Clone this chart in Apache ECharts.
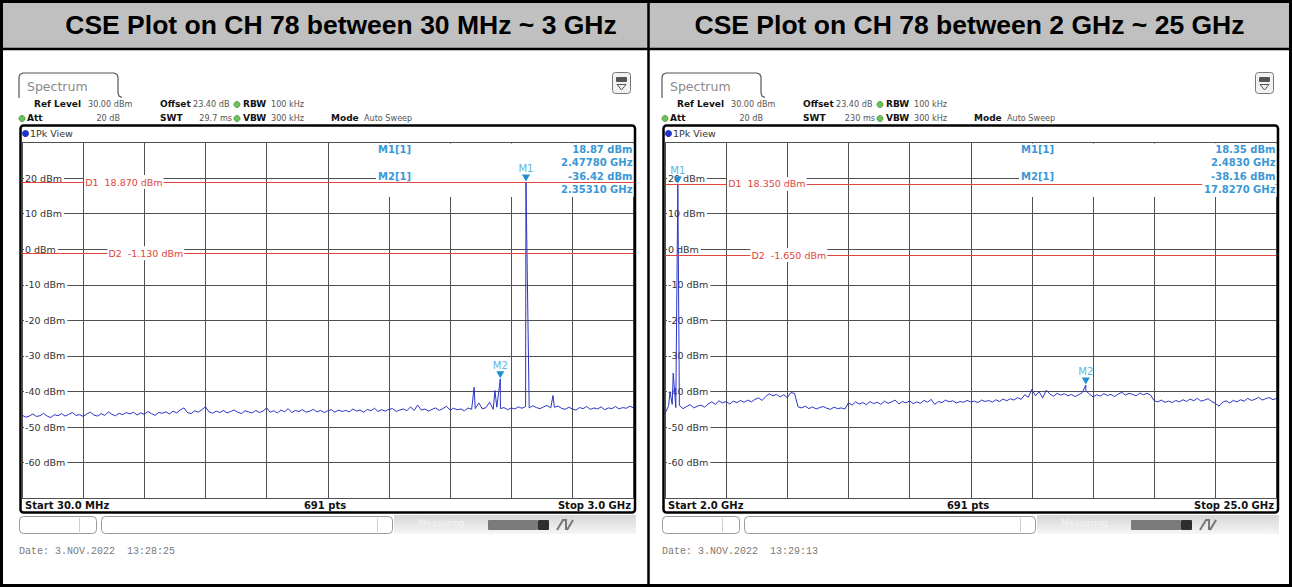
<!DOCTYPE html>
<html>
<head>
<meta charset="utf-8">
<title>CSE Plot on CH 78</title>
<script src="https://cdn.jsdelivr.net/npm/echarts@6/dist/echarts.min.js"></script>
<style>
html,body{margin:0;padding:0;background:#ffffff;overflow:hidden;}
#chart{width:1292px;height:587px;}
</style>
</head>
<body>
<div id="chart"></div>
<script>
// ================= DATA =================
const panelTitles = ['CSE Plot on CH 78 between 30 MHz ~ 3 GHz', 'CSE Plot on CH 78 between 2 GHz ~ 25 GHz'];
const yMin = -70, yMax = 30, yStep = 10, yUnit = 'dBm';
const divisions = 10;

// Panel 1 : 30 MHz .. 3 GHz (MHz)
const p1Start = 30, p1Stop = 3000;
const p1Noise = [
 -46.6,-47.2,-46.9,-46.3,-47.0,-46.8,-46.1,-46.9,-47.3,-46.5,
 -46.8,-46.2,-46.9,-46.4,-45.9,-46.7,-46.5,-47.0,-46.3,-45.8,
 -46.6,-46.9,-46.2,-46.7,-45.7,-46.4,-46.8,-46.1,-46.5,-45.9,
 -46.3,-45.8,-46.6,-46.0,-46.4,-45.6,-46.2,-46.7,-45.9,-46.1,
 -45.7,-46.3,-45.5,-46.0,-45.2,-44.6,-45.9,-46.2,-45.4,-45.8,
 -45.1,-44.3,-45.7,-46.1,-45.5,-45.9,-45.3,-46.0,-45.6,-45.2,
 -45.8,-46.2,-45.4,-45.7,-46.0,-45.3,-45.9,-45.5,-44.6,-45.8,
 -45.4,-46.0,-45.2,-45.7,-44.8,-45.9,-45.3,-45.6,-45.1,-45.8,
 -45.5,-45.0,-45.7,-45.3,-45.9,-45.4,-45.1,-45.8,-45.2,-45.6,
 -45.3,-45.7,-44.9,-45.5,-45.2,-45.8,-45.0,-45.4,-44.7,-45.6,
 -45.1,-45.5,-45.0,-44.8,-45.6,-45.2,-44.9,-45.4,-44.3,-45.3,
 -43.8,-45.2,-44.9,-45.5,-45.0,-44.6,-45.3,-44.8,-44.1,-45.2,
 -44.7,-45.1,-44.9,-45.4,-44.6,-45.0,-44.8,-43.2,-44.9,-44.5,
 -43.0,-45.0,-44.4,-44.8,-44.5,-45.1,-44.6,-44.9,-44.3,-44.7,
 -44.2,-44.6,-44.0,-44.5,-44.8,-44.3,-43.9,-44.6,-44.4,-44.1,
 -44.7,-45.0,-44.4,-44.9,-45.2,-44.5,-44.8,-44.2,-45.0,-44.6,
 -44.9,-44.3,-45.1,-44.6,-44.8,-44.2,-44.9,-44.5,-44.7,-44.1,-44.6
];
const p1Spikes = [[2226, -38.8], [2327, -39.7], [2353.1, -36.42], [2477.8, 18.87], [2609, -41.1]];
const p1Markers = [['M1', 2477.8, 18.87], ['M2', 2353.1, -36.42]];
const p1Lines = [['D1', 18.87, 'D1  18.870 dBm'], ['D2', -1.13, 'D2  -1.130 dBm']];
const p1MarkerTable = [['M1[1]', '18.87 dBm', '2.47780 GHz'], ['M2[1]', '-36.42 dBm', '2.35310 GHz']];
const p1Swt = '29.7 ms';
const p1Footer = ['Start 30.0 MHz', '691 pts', 'Stop 3.0 GHz'];
const p1Date = 'Date: 3.NOV.2022  13:28:25';

// Panel 2 : 2 GHz .. 25 GHz (GHz)
const p2Start = 2, p2Stop = 25;
const p2Noise = [
 -46.2,-44.0,-43.6,-44.5,-43.9,-44.8,-44.2,-43.7,-44.6,-44.1,
 -43.8,-44.4,-43.5,-42.9,-43.6,-42.6,-43.2,-42.8,-43.5,-42.7,
 -43.1,-42.5,-43.0,-42.4,-42.9,-42.2,-41.8,-42.5,-41.4,-40.6,
 -41.2,-40.8,-41.5,-40.9,-41.7,-40.3,-40.5,-44.3,-44.6,-44.1,
 -44.8,-44.3,-44.9,-44.5,-44.2,-44.7,-45.0,-44.4,-44.8,-44.6,
 -44.9,-43.2,-43.8,-42.9,-43.5,-43.1,-43.7,-42.8,-43.4,-43.0,
 -43.6,-42.7,-43.3,-42.9,-42.4,-43.5,-42.8,-43.2,-42.6,-43.4,
 -42.9,-43.3,-42.5,-43.0,-42.2,-43.6,-42.8,-43.1,-42.4,-42.9,
 -42.6,-43.2,-42.8,-43.0,-42.5,-42.9,-42.7,-43.1,-42.4,-42.8,
 -42.5,-43.0,-42.3,-42.8,-42.1,-42.6,-42.0,-42.4,-41.7,-42.2,
 -40.9,-41.6,-39.4,-41.2,-40.0,-41.8,-39.6,-40.7,-41.3,-40.5,
 -41.0,-40.6,-41.2,-40.8,-41.4,-40.9,-40.3,-39.8,-40.7,-41.5,
 -40.9,-41.3,-40.6,-41.1,-40.8,-41.4,-40.7,-40.2,-41.0,-40.5,
 -40.8,-41.2,-40.4,-40.9,-40.5,-41.0,-42.6,-42.9,-42.4,-43.0,
 -42.7,-43.1,-42.5,-42.9,-42.3,-42.8,-42.1,-42.6,-41.9,-42.7,
 -42.4,-42.0,-42.8,-43.3,-44.1,-43.0,-42.6,-43.2,-42.5,-42.9,
 -42.3,-42.7,-41.9,-42.5,-42.2,-41.6,-42.4,-42.0,-41.7,-42.3,-41.9
];
const p2Spikes = [[2.19, -40.0], [2.31, -34.8], [2.483, 18.35], [17.827, -38.16]];
const p2Markers = [['M1', 2.483, 18.35], ['M2', 17.827, -38.16]];
const p2Lines = [['D1', 18.35, 'D1  18.350 dBm'], ['D2', -1.65, 'D2  -1.650 dBm']];
const p2MarkerTable = [['M1[1]', '18.35 dBm', '2.4830 GHz'], ['M2[1]', '-38.16 dBm', '17.8270 GHz']];
const p2Swt = '230 ms';
const p2Footer = ['Start 2.0 GHz', '691 pts', 'Stop 25.0 GHz'];
const p2Date = 'Date: 3.NOV.2022  13:29:13';

// ================= LAYOUT / STYLE =================
const PANEL_DX = [0, 643];
const GRID = { left: 22, top: 142.5, width: 611.5, height: 355.8 };
const C = {
  grid: '#505050', trace: '#2c34c4', dline: '#e0463e', marker: '#1f8fd1',
  markerLbl: '#5db5e3', info: '#3b98d4', text: '#333333', gray: '#8a8a8a'
};
const F = 'DejaVu Sans';

function buildTrace(start, stop, noise, spikes) {
  const n = noise.length;
  const pts = noise.map((v, i) => [start + (stop - start) * i / (n - 1), v]);
  spikes.forEach(s => pts.push([s[0], s[1]]));
  pts.sort((a, b) => a[0] - b[0]);
  return pts;
}

const panels = [
  { start: p1Start, stop: p1Stop, noise: p1Noise, spikes: p1Spikes, markers: p1Markers, lines: p1Lines,
    table: p1MarkerTable, swt: p1Swt, footer: p1Footer, date: p1Date, title: panelTitles[0] },
  { start: p2Start, stop: p2Stop, noise: p2Noise, spikes: p2Spikes, markers: p2Markers, lines: p2Lines,
    table: p2MarkerTable, swt: p2Swt, footer: p2Footer, date: p2Date, title: panelTitles[1] }
];

const chart = echarts.init(document.getElementById('chart'), null, { renderer: 'svg', width: 1292, height: 587 });

const grids = [], xAxes = [], yAxes = [], series = [];
panels.forEach((p, k) => {
  grids.push({ left: GRID.left + PANEL_DX[k], top: GRID.top, width: GRID.width, height: GRID.height,
    outerBoundsMode: 'none', containLabel: false, show: false });
  xAxes.push({ gridIndex: k, type: 'value', min: 0, max: divisions, interval: 1,
    axisLine: { show: false }, axisTick: { show: false }, axisLabel: { show: false },
    splitLine: { show: true, lineStyle: { color: C.grid, width: 1 } } });
  xAxes.push({ gridIndex: k, type: 'value', min: p.start, max: p.stop, show: false,
    splitLine: { show: false } });
  yAxes.push({ gridIndex: k, type: 'value', min: yMin, max: yMax, interval: yStep,
    axisLine: { show: false }, axisTick: { show: false },
    splitLine: { show: true, lineStyle: { color: C.grid, width: 1 } },
    axisLabel: { inside: true, margin: 2, showMinLabel: false, showMaxLabel: false,
      formatter: v => v + ' ' + yUnit, color: C.text, fontSize: 9.5, fontFamily: F,
      backgroundColor: '#ffffff', padding: [0, 2, 0, 1] } });
  series.push({
    type: 'line', xAxisIndex: 2 * k + 1, yAxisIndex: k,
    data: buildTrace(p.start, p.stop, p.noise, p.spikes),
    symbol: 'none', showSymbol: false, smooth: false,
    lineStyle: { color: C.trace, width: 1 }, z: 3, silent: true, animation: false,
    markLine: { silent: true, animation: false, symbol: ['none', 'none'], label: { show: false },
      lineStyle: { color: C.dline, width: 1, type: 'solid' },
      emphasis: { disabled: true },
      data: p.lines.map(d => ({ yAxis: d[1] })) },
    markPoint: { silent: true, animation: false, symbol: 'path://M0 0 L10 0 L5 8 Z',
      symbolSize: [8, 7], symbolOffset: [0, -4], itemStyle: { color: C.marker },
      label: { show: true, position: 'top', distance: 1, color: C.markerLbl, fontSize: 10,
        fontFamily: F, formatter: '{b}' },
      data: p.markers.map(m => ({ name: m[0], coord: [m[1], m[2]] })) }
  });
});

chart.setOption({
  animation: false,
  backgroundColor: '#ffffff',
  grid: grids, xAxis: xAxes, yAxis: yAxes, series: series
});

// ================= DECORATION (graphic) =================
function T(x, y, text, font, fill, align, extra) {
  return { type: 'text', x: x, y: y, z: 10, silent: true,
    style: Object.assign({ text: text, font: font, fill: fill, align: align || 'left', verticalAlign: 'middle' }, extra || {}) };
}
function R(x, y, w, h, style, r, z) {
  return { type: 'rect', z: z == null ? 10 : z, silent: true, shape: { x: x, y: y, width: w, height: h, r: r || 0 }, style: style };
}
function L(x1, y1, x2, y2, stroke, lw, z) {
  return { type: 'line', z: z == null ? 10 : z, silent: true, shape: { x1: x1, y1: y1, x2: x2, y2: y2 }, style: { stroke: stroke, lineWidth: lw } };
}
function PL(points, stroke, lw) {
  return { type: 'polyline', z: 10, silent: true, shape: { points: points }, style: { fill: null, stroke: stroke, lineWidth: lw } };
}
function Dot(cx, cy, r, fill, stroke) {
  return { type: 'circle', z: 10, silent: true, shape: { cx: cx, cy: cy, r: r }, style: { fill: fill, stroke: stroke || null, lineWidth: 0.8 } };
}

const els = [];
// table header & borders
els.push(R(0, 0, 1292, 49, { fill: '#c0c0c0' }, 0, 0));
els.push(T(341, 25, panelTitles[0], 'bold 26.5px "Liberation Sans"', '#000', 'center'));
els.push(T(969.5, 25, panelTitles[1], 'bold 26.5px "Liberation Sans"', '#000', 'center'));
els.push(L(0, 49, 1292, 49, '#000', 2.5, 20));
els.push(L(648.5, 0, 648.5, 587, '#000', 2.5, 20));
els.push(R(1.5, 1.5, 1289, 584, { fill: 'none', stroke: '#000', lineWidth: 3 }, 0, 20));

const bold9 = 'bold 9px "' + F + '"';
const norm9 = '9px "DejaVu Sans Condensed", "DejaVu Sans"';
panels.forEach((p, k) => {
  const dx = PANEL_DX[k];
  // tab
  els.push(PL([[19 + dx, 98], [19 + dx, 77], [20 + dx, 74.5], [23 + dx, 73], [114 + dx, 73], [117 + dx, 74.5], [118 + dx, 77], [118 + dx, 93], [119 + dx, 96], [122 + dx, 97.5]], '#555', 1.2));
  els.push(T(27 + dx, 86, 'Spectrum', '12.5px "' + F + '"', C.gray));
  // icon top right
  els.push(R(612.5 + dx, 72.5, 18, 21, { fill: '#f2f2f2', stroke: '#777', lineWidth: 1 }, 3));
  els.push(R(616 + dx, 77, 11, 5, { fill: '#555' }, 1));
  els.push({ type: 'polygon', z: 11, silent: true, shape: { points: [[617 + dx, 84.5], [626 + dx, 84.5], [621.5 + dx, 90]] }, style: { fill: null, stroke: '#555', lineWidth: 1 } });
  // settings rows
  els.push(T(34 + dx, 104, 'Ref Level', bold9, '#111'));
  els.push(T(88 + dx, 104, '30.00 dBm', norm9, '#555'));
  els.push(T(160 + dx, 104, 'Offset', bold9, '#111'));
  els.push(T(193 + dx, 104, '23.40 dB', norm9, '#555'));
  els.push(Dot(237 + dx, 104.5, 3, '#6cc35a', '#3f8f34'));
  els.push(T(243 + dx, 104, 'RBW', bold9, '#111'));
  els.push(T(271 + dx, 104, '100 kHz', norm9, '#555'));
  els.push(Dot(22 + dx, 118.5, 3, '#6cc35a', '#3f8f34'));
  els.push(T(27 + dx, 118, 'Att', bold9, '#111'));
  els.push(T(120 + dx, 118, '20 dB', norm9, '#555', 'right'));
  els.push(T(160 + dx, 118, 'SWT', bold9, '#111'));
  els.push(T(232 + dx, 118, p.swt, norm9, '#555', 'right'));
  els.push(Dot(237 + dx, 118.5, 3, '#6cc35a', '#3f8f34'));
  els.push(T(243 + dx, 118, 'VBW', bold9, '#111'));
  els.push(T(271 + dx, 118, '300 kHz', norm9, '#555'));
  els.push(T(331 + dx, 118, 'Mode', bold9, '#111'));
  els.push(T(364 + dx, 118, 'Auto Sweep', norm9, '#555'));
  // plot frame
  els.push(R(20.5 + dx, 125.5, 614.5, 387, { fill: null, stroke: '#000', lineWidth: 2.5 }, 3, 12));
  els.push(Dot(25.5 + dx, 133.5, 3.5, '#2233cc'));
  els.push(T(30 + dx, 133, '1Pk View', '9.5px "' + F + '"', '#333'));
  // marker table box (covers grid lines, below trace)
  els.push(R(376 + dx, 143.5, 258, 53.5, { fill: '#ffffff' }, 0, 1));
  const infoFont = 'bold 10px "' + F + '"';
  els.push(T(378 + dx, 149.5, p.table[0][0], infoFont, C.info));
  els.push(T(378 + dx, 176.5, p.table[1][0], infoFont, C.info));
  els.push(T(632.5 + dx, 149.5, p.table[0][1], infoFont, C.info, 'right', { backgroundColor: '#fff', padding: [1, 0, 1, 2] }));
  els.push(T(632.5 + dx, 162.5, p.table[0][2], infoFont, C.info, 'right', { backgroundColor: '#fff', padding: [1, 0, 1, 2] }));
  els.push(T(632.5 + dx, 176, p.table[1][1], infoFont, C.info, 'right', { backgroundColor: '#fff', padding: [1, 0, 1, 4] }));
  els.push(T(632.5 + dx, 189, p.table[1][2], infoFont, C.info, 'right', { backgroundColor: '#fff', padding: [1, 0, 1, 2] }));
  // display line labels (positions through axis scales)
  const dOffsets = [1.0, 1.38];
  p.lines.forEach((d, j) => {
    const px = chart.convertToPixel({ xAxisIndex: 2 * k }, dOffsets[j]);
    const py = chart.convertToPixel({ yAxisIndex: k }, d[1]);
    els.push(T(px + 1, py, d[2], '9.5px "' + F + '"', C.dline, 'left', { backgroundColor: '#fff', padding: [2, 1, 2, 1] }));
  });
  // footer row
  els.push(T(25 + dx, 505, p.footer[0], 'bold 10px "' + F + '"', '#111'));
  els.push(T(325 + dx, 505, p.footer[1], 'bold 10px "' + F + '"', '#111', 'center'));
  els.push(T(631 + dx, 505, p.footer[2], 'bold 10px "' + F + '"', '#111', 'right'));
  // bottom status widgets
  els.push(R(19.5 + dx, 516.5, 77, 17, { fill: '#fff', stroke: '#9a9a9a', lineWidth: 1 }, 4));
  els.push(L(79.5 + dx, 518, 79.5 + dx, 532, '#cfcfcf', 1));
  els.push(R(101.5 + dx, 516.5, 291, 17, { fill: '#fff', stroke: '#9a9a9a', lineWidth: 1 }, 4));
  els.push(L(377.5 + dx, 518, 377.5 + dx, 532, '#cfcfcf', 1));
  els.push(R(394 + dx, 515, 242, 19, { fill: {
      type: 'linear', x: 0, y: 0, x2: 0, y2: 1,
      colorStops: [{ offset: 0, color: '#d6d6d6' }, { offset: 1, color: '#f6f6f6' }] } }, 0));
  els.push(T(418 + dx, 523, 'Measuring', '9px "' + F + '"', '#f4f4f4'));
  els.push(R(488 + dx, 520, 50, 10, { fill: '#7a7a7a' }, 1));
  els.push(R(538 + dx, 520, 11, 10, { fill: '#2e2e2e' }, 1));
  els.push(PL([[557 + dx, 530], [563 + dx, 520], [566 + dx, 520], [566 + dx, 530]], '#777', 2));
  els.push(PL([[567 + dx, 530], [573 + dx, 520]], '#777', 2));
  // date
  els.push(T(19 + dx, 551, p.date, '10px "Liberation Mono"', '#7a7a7a'));
});

chart.setOption({ graphic: { elements: els } });
</script>
</body>
</html>
